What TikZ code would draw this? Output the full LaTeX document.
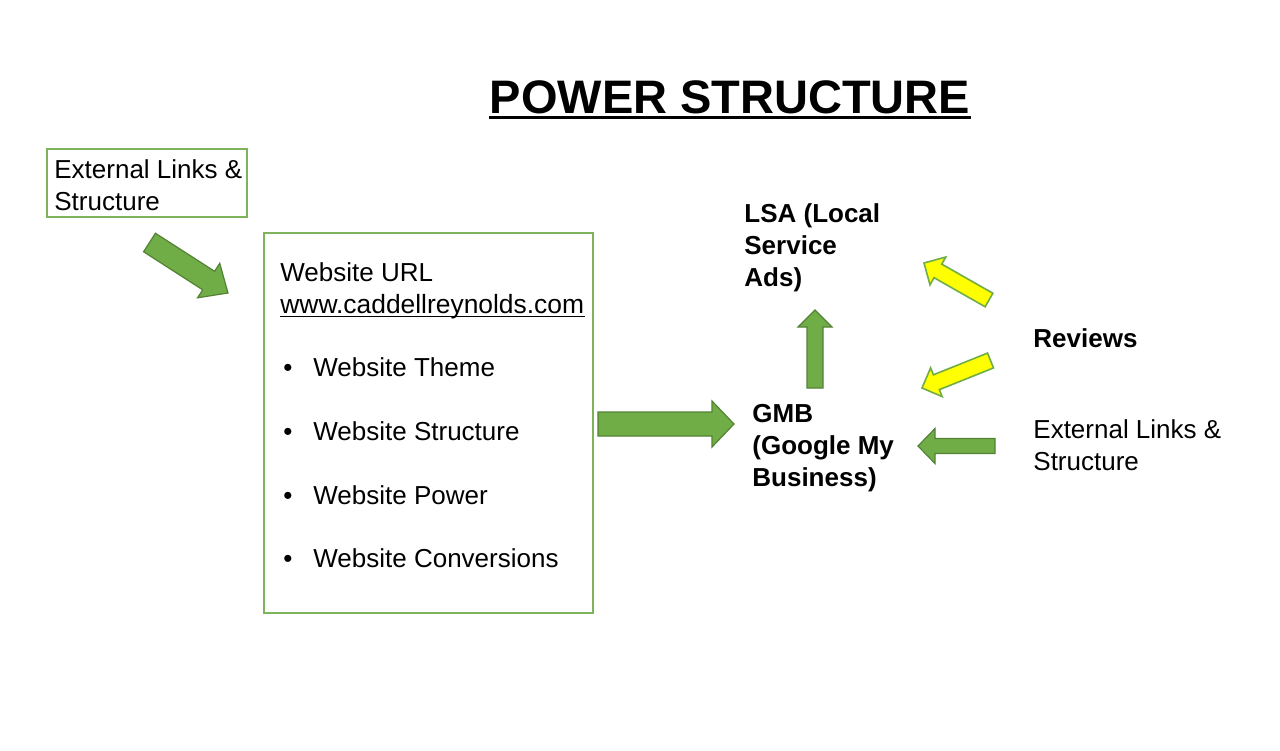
\documentclass[tikz,border=0pt]{standalone}
\usepackage{fontspec}
\setmainfont{Liberation Sans}
\usetikzlibrary{calc}
\definecolor{grn}{HTML}{70AD47}
\definecolor{grndark}{HTML}{548235}
\definecolor{boxgrn}{HTML}{7DB35B}
\definecolor{yel}{HTML}{FFFF00}
\newcommand\blockarrow[6]{%
  \coordinate (tmpH) at ($(#3)!#6!(#2)$);
  \draw[#1] ($(#2)!#4!90:(#3)$) -- ($(tmpH)!#4!90:(#3)$) -- ($(tmpH)!#5!90:(#3)$) -- (#3)
    -- ($(tmpH)!#5!-90:(#3)$) -- ($(tmpH)!#4!-90:(#3)$) -- ($(#2)!#4!-90:(#3)$) -- cycle;
}
\tikzset{
  txt/.style={inner sep=0pt, anchor=base west, font=\fontsize{13}{16}\selectfont},
  btxt/.style={txt, font=\fontsize{13}{16}\selectfont\bfseries},
  gbox/.style={draw=boxgrn, line width=1pt},
  garrow/.style={fill=grn, draw=grndark, line width=0.6pt, line join=miter},
  yarrow/.style={fill=yel, draw=grn, line width=0.8pt, line join=miter},
}
\begin{document}
\begin{tikzpicture}[x=0.5pt, y=-0.5pt]
\useasboundingbox[fill=white] (0,0) rectangle (1280,750);

% title
\node[inner sep=0pt, anchor=base, font=\fontsize{23.5}{28}\selectfont\bfseries] (title) at (730,113) {POWER STRUCTURE};
\draw[line width=1.5pt] ([yshift=-2.2pt]title.base west) -- ([yshift=-2.2pt]title.base east);

% left box
\draw[gbox] (47,149) rectangle (247,217);
\node[txt] (ext1) at (54,178) {External Links \&};
\node[txt] (ext2) at (54,210) {Structure};

% main box
\draw[gbox] (264,233) rectangle (593,613);
\node[txt] (wurl) at (280,281) {Website URL};
\node[txt, font=\fontsize{13.2}{16}\selectfont] (url) at (280,313) {www.caddellreynolds.com};
\draw[line width=0.6pt] ([yshift=-1.6pt]url.base west) -- ([yshift=-1.6pt]url.base east);
\foreach \y/\t/\n in {376/Website Theme/b1, 440/Website Structure/b2, 504/Website Power/b3, 567/Website Conversions/b4}{
  \node[txt, anchor=base] (\n dot) at (288,\y) {•};
  \node[txt] (\n) at (313,\y) {\t};
}

% right texts
\node[btxt] (lsa1) at (744,222) {LSA (Local};
\node[btxt] (lsa2) at (744,254) {Service};
\node[btxt] (lsa3) at (744,286) {Ads)};
\node[btxt] (gmb1) at (752,422) {GMB};
\node[btxt] (gmb2) at (752,454) {(Google My};
\node[btxt] (gmb3) at (752,486) {Business)};
\node[btxt] (rev) at (1033,347) {Reviews};
\node[txt] (rext1) at (1033,438) {External Links \&};
\node[txt] (rext2) at (1033,470) {Structure};

% arrow end points
\coordinate (a1s) at (149.5,242.5); \coordinate (a1e) at (228,293);
\coordinate (a2s) at (598,424);     \coordinate (a2e) at (734,424);
\coordinate (a3s) at (815,388);     \coordinate (a3e) at (815,310);
\coordinate (a4s) at (995,446);     \coordinate (a4e) at (918,446);
\coordinate (a5s) at (989,300);     \coordinate (a5e) at (924,263);
\coordinate (a6s) at (990.5,360.5); \coordinate (a6e) at (922,388);

\blockarrow{garrow}{a1s}{a1e}{5.5pt}{10.25pt}{11.5pt}
\blockarrow{garrow}{a2s}{a2e}{6pt}{11.5pt}{11pt}
\blockarrow{garrow}{a3s}{a3e}{4pt}{8.5pt}{8.5pt}
\blockarrow{garrow}{a4s}{a4e}{3.75pt}{8.75pt}{8.5pt}
\blockarrow{yarrow}{a5s}{a5e}{3.9pt}{8pt}{8pt}
\blockarrow{yarrow}{a6s}{a6e}{4pt}{7.75pt}{7.75pt}
\end{tikzpicture}
\end{document}
